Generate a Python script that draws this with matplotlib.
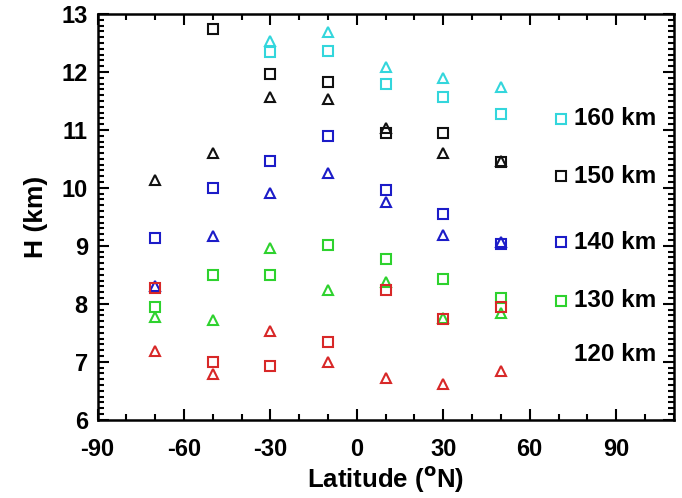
import numpy as np
import matplotlib
matplotlib.use("Agg")
import matplotlib.pyplot as plt
from matplotlib.ticker import MultipleLocator

plt.rcParams['font.family'] = ['Liberation Sans', 'DejaVu Sans']
plt.rcParams['axes.unicode_minus'] = False

lats = [-70, -50, -30, -10, 10, 30, 50]
nan = np.nan

# 160 km (cyan)
sq160 = [nan, nan, 12.35, 12.36, 11.79, 11.57, 11.28]
tr160 = [nan, nan, 12.54, 12.68, 12.08, 11.89, 11.74]
# 150 km (black)
sq150 = [nan, 12.74, 11.96, 11.82, 10.95, 10.95, 10.45]
tr150 = [10.14, 10.60, 11.57, 11.54, 11.04, 10.60, 10.47]
# 140 km (blue)
sq140 = [9.14, 10.00, 10.47, 10.89, 9.97, 9.55, 9.03]
tr140 = [8.31, 9.17, 9.91, 10.26, 9.76, 9.18, 9.07]
# 130 km (green)
sq130 = [7.94, 8.49, 8.49, 9.01, 8.77, 8.43, 8.10]
tr130 = [7.77, 7.72, 8.97, 8.24, 8.37, 7.76, 7.85]
# 120 km (red)
sq120 = [8.28, 6.99, 6.93, 7.34, 8.24, 7.74, 7.95]
tr120 = [7.18, 6.79, 7.53, 6.99, 6.72, 6.62, 6.84]

labels = ['160 km', '150 km', '140 km', '130 km', '120 km']
colors = ['#33d6dc', '#111111', '#1c1cc8', '#2ed22e', '#d82828']
squares = [sq160, sq150, sq140, sq130, sq120]
triangles = [tr160, tr150, tr140, tr130, tr120]
legend_y = [11.19, 10.20, 9.06, 8.05, 7.12]
legend_has_square = [True, True, True, True, False]

xticks = [-90, -60, -30, 0, 30, 60, 90]

fig = plt.figure(figsize=(6.82, 4.98), dpi=100)
ax = fig.add_axes([0.143, 0.157, 0.845, 0.815])

for sq, tr, c in zip(squares, triangles, colors):
    ax.plot(lats, sq, linestyle='none', marker='s', ms=7.2, mfc='none',
            mec=c, mew=1.5)
    ax.plot(lats, tr, linestyle='none', marker='^', ms=7.5, mfc='none',
            mec=c, mew=1.5)

for lab, c, y, hs in zip(labels, colors, legend_y, legend_has_square):
    if hs:
        ax.plot([71], [y], linestyle='none', marker='s', ms=7.2, mfc='none',
                mec=c, mew=1.5)
    ax.text(75.5, y, lab, fontsize=17.5, fontweight='bold', va='center',
            ha='left', color='black')

ax.set_xlim(-90, 110)
ax.set_ylim(6, 13)
ax.set_xticks(xticks)
ax.xaxis.set_minor_locator(MultipleLocator(10))
ax.yaxis.set_major_locator(MultipleLocator(1))
ax.yaxis.set_minor_locator(MultipleLocator(0.1))
ax.tick_params(which='both', direction='in', top=True, right=True, width=1.5)
ax.tick_params(which='major', length=8, labelsize=17)
ax.tick_params(axis='x', which='major', pad=13)
ax.tick_params(axis='y', which='major', pad=7)
ax.tick_params(which='minor', length=4)
for lab in ax.get_xticklabels() + ax.get_yticklabels():
    lab.set_fontweight('bold')
for sp in ax.spines.values():
    sp.set_linewidth(1.8)

ax.set_xlabel('Latitude ($\\mathbf{^{o}}$N)', fontsize=18.5, fontweight='bold', labelpad=2)
ax.set_ylabel('H (km)', fontsize=19, fontweight='bold', labelpad=10)

fig.savefig('out.png', dpi=100)
